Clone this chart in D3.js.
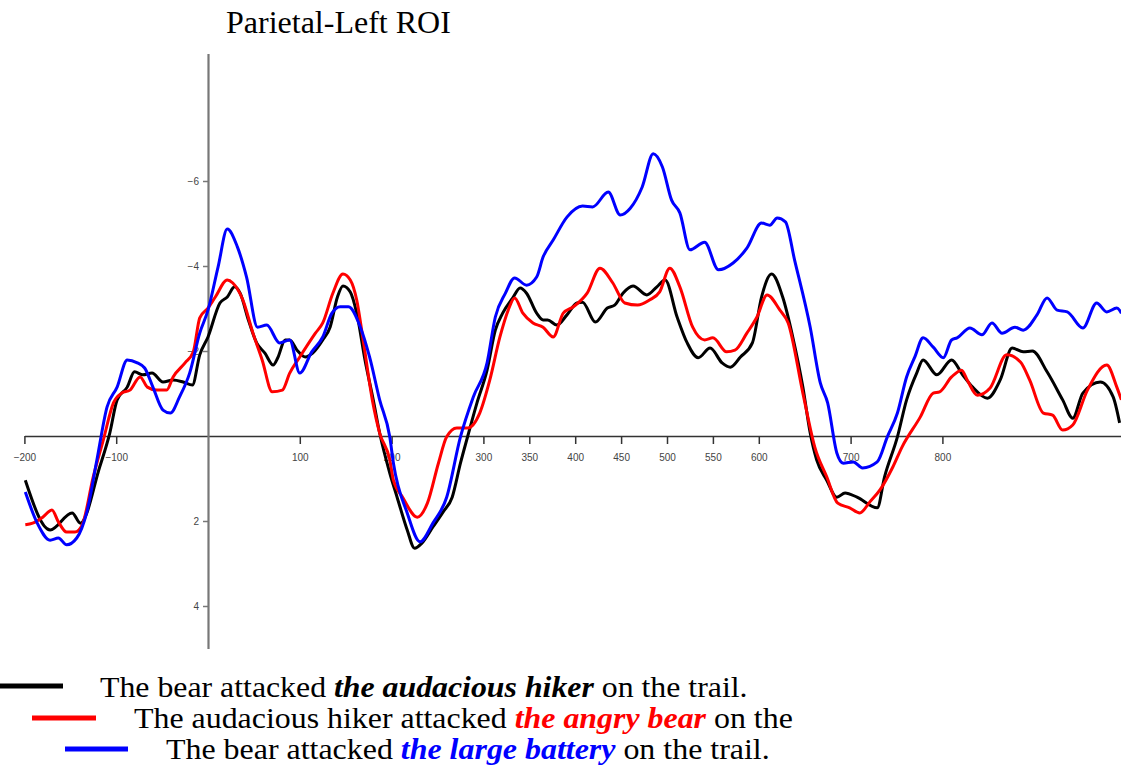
<!DOCTYPE html>
<html>
<head>
<meta charset="utf-8">
<script src="https://cdn.jsdelivr.net/npm/d3@7"></script>
<style>
    body { margin: 0; background: #fff; overflow: hidden; }
    svg { display: block; }
    .tick text { font-family: "Liberation Sans", Arial, sans-serif; font-size: 10px; fill: #444; }
</style>
</head>
<body>
<svg id="erp" width="1121" height="765"></svg>
<script>
// time (ms), amplitude (microvolts)
var hiker = [[-199,1.04],[-172,2.21],[-148,1.81],[-139,2.05],[-118,0.73],[-107,-0.07],[-99,-0.85],[-88,-1.15],[-80,-1.51],[-71,-1.44],[-61,-1.48],[-49,-1.27],[-38,-1.32],[-27,-1.27],[-17,-1.2],[-9,-1.91],[0,-2.33],[13,-3.13],[21,-3.27],[29,-3.51],[35,-3.36],[44,-2.73],[53,-2.19],[62,-1.95],[71,-1.67],[76,-1.84],[84,-2.26],[89,-2.26],[97,-2.02],[106,-1.86],[114,-1.95],[125,-2.26],[133,-2.56],[141,-3.27],[147,-3.53],[155,-3.39],[162,-2.89],[171,-1.79],[180,-0.85],[187,-0.07],[198,0.87],[206,1.44],[217,2.21],[225,2.64],[233,2.52],[245,2.14],[256,1.79],[266,1.44],[275,0.64],[283,0],[293,-0.78],[304,-1.55],[313,-2.49],[321,-2.89],[332,-3.25],[340,-3.48],[347,-3.36],[358,-2.89],[365,-2.73],[370,-2.73],[380,-2.61],[391,-2.85],[402,-3.13],[408,-3.15],[422,-2.68],[435,-3.01],[443,-3.08],[452,-3.36],[463,-3.53],[478,-3.32],[489,-3.51],[498,-3.67],[511,-2.8],[522,-2.19],[534,-1.84],[547,-2.07],[560,-1.72],[569,-1.62],[580,-1.86],[593,-2.19],[603,-3.27],[614,-3.81],[626,-3.27],[637,-2.33],[648,-1.15],[656,-0.07],[663,0.56],[674,1.04],[685,1.44],[694,1.34],[707,1.44],[729,1.69],[737,0.96],[751,0.02],[761,-0.85],[772,-1.48],[779,-1.79],[794,-1.44],[810,-1.79],[822,-1.44],[833,-1.15],[849,-0.89],[863,-1.32],[876,-2.07],[888,-1.98],[898,-2.0],[914,-1.51],[931,-0.85],[942,-0.42],[953,-1.01],[972,-1.27],[986,-0.92],[993,-0.31]];

var bear = [[-199,2.09],[-191,2.05],[-180,1.91],[-170,1.74],[-163,2.02],[-154,2.26],[-145,2.26],[-137,2.09],[-125,0.96],[-114,0.09],[-103,-0.78],[-94,-1.01],[-85,-1.08],[-74,-1.39],[-66,-1.15],[-56,-1.08],[-45,-1.08],[-38,-1.39],[-25,-1.72],[-16,-1.98],[-9,-2.78],[0,-3.01],[8,-3.27],[21,-3.67],[27,-3.6],[38,-3.2],[49,-2.42],[59,-1.79],[70,-1.04],[81,-1.08],[89,-1.48],[100,-1.86],[117,-2.42],[125,-2.66],[136,-3.36],[147,-3.81],[155,-3.67],[162,-3.2],[169,-2.26],[179,-0.85],[187,-0.07],[198,0.56],[202,1.04],[212,1.44],[228,1.91],[239,1.58],[251,0.64],[260,0.02],[271,-0.19],[283,-0.19],[296,-0.54],[307,-1.32],[318,-2.33],[327,-2.96],[334,-3.25],[343,-2.89],[354,-2.66],[365,-2.56],[376,-2.33],[387,-2.89],[398,-3.04],[413,-3.36],[427,-3.95],[441,-3.6],[454,-3.13],[468,-3.08],[481,-3.2],[492,-3.39],[503,-3.95],[514,-3.51],[528,-2.56],[541,-2.26],[550,-2.31],[565,-1.98],[574,-2.02],[587,-2.42],[598,-2.8],[609,-3.32],[623,-2.96],[632,-2.66],[648,-1.01],[661,0.26],[674,0.96],[686,1.58],[699,1.69],[710,1.81],[721,1.55],[732,1.27],[746,0.73],[756,0.26],[776,-0.45],[790,-1.01],[797,-1.04],[810,-1.39],[821,-1.55],[827,-1.32],[838,-0.96],[852,-1.13],[870,-1.91],[885,-1.74],[895,-1.32],[910,-0.54],[920,-0.49],[931,-0.14],[942,-0.26],[958,-1.08],[979,-1.67],[990,-1.15],[995,-0.85]];

var battery = [[-199,1.32],[-186,2.05],[-172,2.45],[-163,2.4],[-154,2.56],[-143,2.4],[-132,1.79],[-121,0.56],[-110,-0.68],[-99,-1.15],[-88,-1.79],[-77,-1.72],[-69,-1.6],[-60,-1.15],[-49,-0.61],[-41,-0.54],[-31,-0.92],[-20,-1.48],[-9,-2.42],[0,-2.96],[11,-3.98],[21,-4.87],[32,-4.45],[42,-3.74],[54,-2.56],[64,-2.61],[78,-2.19],[89,-2.26],[100,-1.48],[113,-1.98],[125,-2.33],[135,-2.89],[144,-3.04],[153,-3.04],[166,-2.56],[176,-1.86],[187,-0.85],[198,0.02],[202,0.64],[217,1.81],[231,2.49],[245,2.05],[260,1.44],[275,0.02],[289,-0.92],[304,-1.72],[313,-2.8],[324,-3.36],[334,-3.72],[347,-3.55],[358,-3.74],[365,-4.21],[376,-4.61],[391,-5.15],[408,-5.41],[419,-5.39],[436,-5.74],[449,-5.2],[460,-5.36],[473,-5.86],[485,-6.64],[495,-6.33],[505,-5.55],[514,-5.25],[525,-4.38],[541,-4.56],[556,-3.91],[572,-4.07],[587,-4.42],[603,-5.01],[612,-4.96],[620,-5.13],[629,-5.04],[639,-4.14],[656,-2.56],[667,-1.25],[675,-0.78],[685,0.4],[692,0.64],[703,0.61],[713,0.75],[729,0.61],[740,0.02],[751,-0.54],[761,-1.39],[770,-1.86],[779,-2.31],[790,-2.09],[801,-1.84],[810,-2.26],[816,-2.31],[830,-2.54],[843,-2.38],[854,-2.66],[865,-2.42],[879,-2.56],[888,-2.49],[903,-2.85],[914,-3.25],[925,-2.96],[936,-2.92],[953,-2.54],[968,-3.13],[979,-2.92],[990,-3.01],[995,-2.89]];

var xTicks = [-200, -100, 100, 200, 300, 350, 400, 450, 500, 550, 600, 700, 800];
var yTicks = [-6, -4, -2, 2, 4];

var legendItems = [
    {color: "#000000", before: "The bear attacked ", em: "the audacious hiker", after: " on the trail."},
    {color: "#ff0000", before: "The audacious hiker attacked ", em: "the angry bear", after: " on the"},
    {color: "#0000ff", before: "The bear attacked ", em: "the large battery", after: " on the trail."}
];

var svg = d3.select("#erp");

var x = d3.scaleLinear().domain([-200, 1000]).range([24.4, 1126]),
    y = d3.scaleLinear().domain([-9, 5]).range([53.5, 648.5]);

// title
svg.append("text").attr("x", 226).attr("y", 33)
    .style("font-family", "'Liberation Serif', 'Times New Roman', serif").style("font-size", "32px")
    .text("Parietal-Left ROI");

// axes
var xAxis = svg.append("g").attr("transform", "translate(0," + y(0) + ")")
    .call(d3.axisBottom(x).tickValues(xTicks).tickSize(8).tickSizeOuter(0).tickPadding(10));
xAxis.select(".domain").attr("stroke", "#333").attr("stroke-width", 1.5);
xAxis.selectAll(".tick line").attr("stroke", "#333").attr("stroke-width", 1.5);

var yAxis = svg.append("g").attr("transform", "translate(" + x(0) + ",0)")
    .call(d3.axisLeft(y).tickValues(yTicks).tickSize(5).tickSizeOuter(0).tickPadding(4));
yAxis.select(".domain").attr("stroke", "#777").attr("stroke-width", 2.2);
yAxis.selectAll(".tick line").attr("stroke", "#777").attr("stroke-width", 1.5);

// waves
var line = d3.line().x(d => x(d[0])).y(d => y(d[1])).curve(d3.curveMonotoneX);

[[hiker, "#000000"], [bear, "#ff0000"], [battery, "#0000ff"]].forEach(function(s) {
    svg.append("path").datum(s[0])
        .attr("fill", "none").attr("stroke", s[1])
        .attr("stroke-width", 3).attr("stroke-linejoin", "round")
        .attr("d", line);
});

// legend
var legendPos = [
    {x0: 0, x1: 63, ly: 686, tx: 100, ty: 697, w: 648},
    {x0: 32, x1: 96, ly: 718, tx: 134, ty: 728, w: 659},
    {x0: 65, x1: 128, ly: 749, tx: 166, ty: 759, w: 604}
];

legendItems.forEach(function(item, i) {
    var p = legendPos[i];
    svg.append("line").attr("x1", p.x0).attr("x2", p.x1).attr("y1", p.ly).attr("y2", p.ly)
        .attr("stroke", item.color).attr("stroke-width", 5);

    var t = svg.append("text").attr("x", 0).attr("y", 0)
        .style("font-family", "'Liberation Serif', 'Times New Roman', serif").style("font-size", "30px");
    t.append("tspan").text(item.before);
    t.append("tspan").text(item.em).attr("fill", item.color)
        .style("font-weight", "bold").style("font-style", "italic");
    t.append("tspan").text(item.after);

    var len = t.node().getComputedTextLength();
    t.attr("transform", "translate(" + p.tx + "," + p.ty + ") scale(" + (p.w / len) + ",1)");
});
</script>
</body>
</html>
